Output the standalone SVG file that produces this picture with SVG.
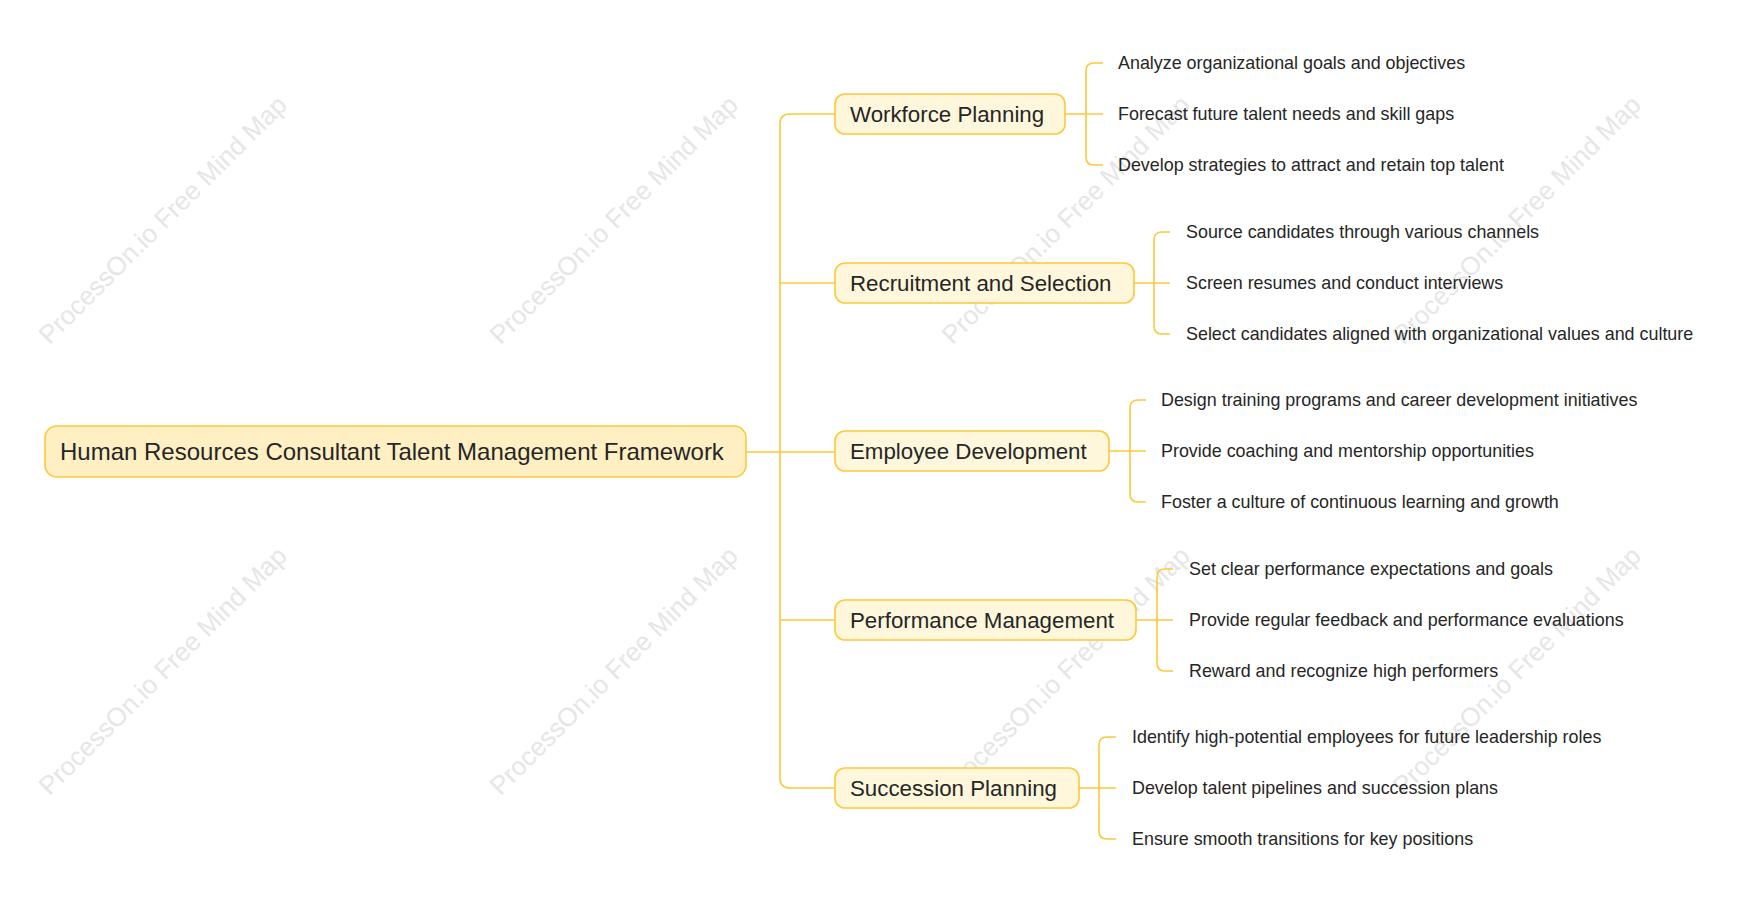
<svg xmlns="http://www.w3.org/2000/svg" width="1760" height="915" viewBox="0 0 1760 915">
<style>
.wm{font-family:"Liberation Sans",Arial,sans-serif;font-size:26px;fill:#e6e6e6}
.ln{fill:none;stroke:#fcc93a;stroke-width:1.6}
.root{fill:#ffefc3;stroke:#fcc93a;stroke-width:1.6}
.ch{fill:#fff7dc;stroke:#fcc93a;stroke-width:1.6}
.rt{font-family:"Liberation Sans",Arial,sans-serif;font-size:24px;fill:#262626}
.ct{font-family:"Liberation Sans",Arial,sans-serif;font-size:22.3px;fill:#262626}
.lt{font-family:"Liberation Sans",Arial,sans-serif;font-size:17.9px;fill:#262626}
</style>
<rect width="1760" height="915" fill="#fff"/>
<g id="watermarks">
<text class="wm" transform="translate(169,226) rotate(-45)" text-anchor="middle">ProcessOn.io Free Mind Map</text>
<text class="wm" transform="translate(620,226) rotate(-45)" text-anchor="middle">ProcessOn.io Free Mind Map</text>
<text class="wm" transform="translate(1072,226) rotate(-45)" text-anchor="middle">ProcessOn.io Free Mind Map</text>
<text class="wm" transform="translate(1523,226) rotate(-45)" text-anchor="middle">ProcessOn.io Free Mind Map</text>
<text class="wm" transform="translate(169,677) rotate(-45)" text-anchor="middle">ProcessOn.io Free Mind Map</text>
<text class="wm" transform="translate(620,677) rotate(-45)" text-anchor="middle">ProcessOn.io Free Mind Map</text>
<text class="wm" transform="translate(1072,677) rotate(-45)" text-anchor="middle">ProcessOn.io Free Mind Map</text>
<text class="wm" transform="translate(1523,677) rotate(-45)" text-anchor="middle">ProcessOn.io Free Mind Map</text>
</g>
<g id="connectors">
<path class="ln" d="M746 452H835M835 114H790Q780 114 780 124V778Q780 788 790 788H835M780 283H835M780 620H835"/>
<path class="ln" d="M1065 114H1086M1103 63H1094Q1086 63 1086 71V157Q1086 165 1094 165H1103M1086 114H1103"/>
<path class="ln" d="M1134 283H1154M1170 232H1162Q1154 232 1154 240V326Q1154 334 1162 334H1170M1154 283H1170"/>
<path class="ln" d="M1109 451H1130M1146 400H1138Q1130 400 1130 408V494Q1130 502 1138 502H1146M1130 451H1146"/>
<path class="ln" d="M1136 620H1157M1173 569H1165Q1157 569 1157 577V663Q1157 671 1165 671H1173M1157 620H1173"/>
<path class="ln" d="M1079 788H1099M1116 737H1107Q1099 737 1099 745V831Q1099 839 1107 839H1116M1099 788H1116"/>
</g>
<g id="root"><rect class="root" x="45" y="426" width="701" height="51" rx="12"/><text class="rt" x="60" y="460">Human Resources Consultant Talent Management Framework</text></g>
<g id="n1"><rect class="ch" x="835" y="94" width="230" height="40" rx="10"/><text class="ct" x="850" y="121.5">Workforce Planning</text></g>
<g id="n2"><rect class="ch" x="835" y="263" width="299" height="40" rx="10"/><text class="ct" x="850" y="290.5">Recruitment and Selection</text></g>
<g id="n3"><rect class="ch" x="835" y="431" width="274" height="40" rx="10"/><text class="ct" x="850" y="458.5">Employee Development</text></g>
<g id="n4"><rect class="ch" x="835" y="600" width="301" height="40" rx="10"/><text class="ct" x="850" y="627.5">Performance Management</text></g>
<g id="n5"><rect class="ch" x="835" y="768" width="244" height="40" rx="10"/><text class="ct" x="850" y="795.5">Succession Planning</text></g>
<g id="leaves1"><text class="lt" x="1118" y="69">Analyze organizational goals and objectives</text><text class="lt" x="1118" y="120">Forecast future talent needs and skill gaps</text><text class="lt" x="1118" y="171">Develop strategies to attract and retain top talent</text></g>
<g id="leaves2"><text class="lt" x="1186" y="238">Source candidates through various channels</text><text class="lt" x="1186" y="289">Screen resumes and conduct interviews</text><text class="lt" x="1186" y="340">Select candidates aligned with organizational values and culture</text></g>
<g id="leaves3"><text class="lt" x="1161" y="406">Design training programs and career development initiatives</text><text class="lt" x="1161" y="457">Provide coaching and mentorship opportunities</text><text class="lt" x="1161" y="508">Foster a culture of continuous learning and growth</text></g>
<g id="leaves4"><text class="lt" x="1189" y="575">Set clear performance expectations and goals</text><text class="lt" x="1189" y="626">Provide regular feedback and performance evaluations</text><text class="lt" x="1189" y="677">Reward and recognize high performers</text></g>
<g id="leaves5"><text class="lt" x="1132" y="743">Identify high-potential employees for future leadership roles</text><text class="lt" x="1132" y="794">Develop talent pipelines and succession plans</text><text class="lt" x="1132" y="845">Ensure smooth transitions for key positions</text></g>
</svg>
